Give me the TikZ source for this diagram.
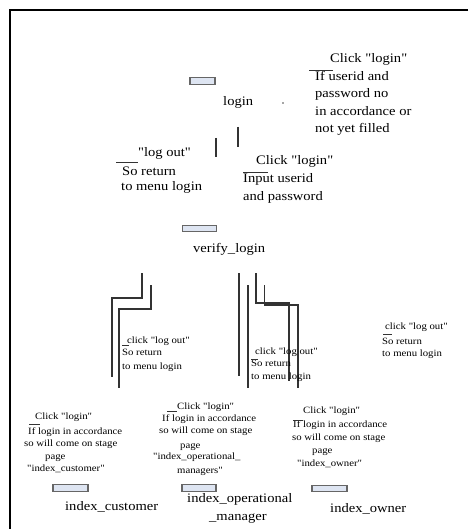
\documentclass[tikz,border=0pt]{standalone}
\usepackage{fontspec}
\setmainfont{Liberation Serif}[FakeStretch=1.12, Ligatures=TeXOff]
\newcommand\bigtxt{\fontsize{13}{16}\selectfont}
\newcommand\smalltxt{\fontsize{9.6}{12}\selectfont}
\definecolor{boxfill}{RGB}{222,229,242}
\tikzset{
  big/.style={anchor=mid west, inner sep=0pt, font=\bigtxt},
  small/.style={anchor=mid west, inner sep=0pt, font=\smalltxt},
  pagebox/.style={draw=black!60, fill=boxfill, line width=1.2pt,
    inner sep=0pt, minimum height=6.5pt},
  wire/.style={draw=black!80, line width=1.3pt},
  tick/.style={draw=black!80, line width=0.9pt},
  frameline/.style={draw=black, line width=2pt},
}
\begin{document}
\begin{tikzpicture}[x=1pt, y=-1pt]
\useasboundingbox (0,0) rectangle (468,529);
\fill[white] (0,0) rectangle (468,529);

% outer frame (top and left edges)
\coordinate (fTL) at (10,10.5);
\coordinate (fTR) at (468,10.5);
\coordinate (fBL) at (10,529);
\draw[frameline] (fTR) -- (fTL) -- (fBL);

% ---------- login page ----------
\node[pagebox, minimum width=25pt] (loginbox) at (202.5,81) {};
\node[big] (login) at (223,103) {login};
\fill[black!70] (283,103) circle (0.9);

% failed login note
\node[big] (fail1) at (330,60) {Click "login"};
\node[big] (fail2) at (315,78) {If userid and};
\node[big] (fail3) at (315,95.5) {password no};
\node[big] (fail4) at (315,113) {in accordance or};
\node[big] (fail5) at (315,130) {not yet filled};
\coordinate (failA) at (309,70); \coordinate (failB) at (333,70);
\draw[tick] (failA) -- (failB);

% short strokes between login and verify_login
\coordinate (s1a) at (238,127); \coordinate (s1b) at (238,147);
\coordinate (s2a) at (216,138); \coordinate (s2b) at (216,157);
\draw[wire] (s1a) -- (s1b);
\draw[wire] (s2a) -- (s2b);

% log out note
\node[big] (lo1) at (138,154) {"log out"};
\node[big] (lo2) at (122,173) {So return};
\node[big] (lo3) at (121,188.5) {to menu login};
\coordinate (loA) at (116,162); \coordinate (loB) at (138,162);
\draw[tick] (loA) -- (loB);

% input note
\node[big] (in1) at (256,162) {Click "login"};
\node[big] (in2) at (243,180) {Input userid};
\node[big] (in3) at (243,198) {and password};
\coordinate (inA) at (243,172); \coordinate (inB) at (268,172);
\draw[tick] (inA) -- (inB);

% ---------- verify_login ----------
\node[pagebox, minimum width=34pt] (verifybox) at (199.5,228.5) {};
\node[big] (verify) at (193,250) {verify\_login};

% wires from verify_login down to the index pages
\coordinate (a1) at (142,273); \coordinate (a2) at (142,298);
\coordinate (a3) at (112,298); \coordinate (a4) at (112,377);
\draw[wire] (a1) -- (a2) -- (a3) -- (a4);
\coordinate (b1) at (151,285); \coordinate (b2) at (151,309);
\coordinate (b3) at (119,309); \coordinate (b4) at (119,388);
\draw[wire] (b1) -- (b2) -- (b3) -- (b4);
\coordinate (c1) at (239,273); \coordinate (c2) at (239,376);
\draw[wire] (c1) -- (c2);
\coordinate (d1) at (248,285); \coordinate (d2) at (248,388);
\draw[wire] (d1) -- (d2);
\coordinate (e1) at (256,273); \coordinate (e2) at (256,303);
\coordinate (e3) at (289,303); \coordinate (e4) at (289,381);
\draw[wire] (e1) -- (e2) -- (e3) -- (e4);
\coordinate (g1) at (264.5,285); \coordinate (g2) at (264.5,305);
\coordinate (g3) at (298,305); \coordinate (g4) at (298,388);
\draw[wire] (g1) -- (g2) -- (g3) -- (g4);

% log out notes of the index pages
\node[small] (ca1) at (127,341) {click "log out"};
\node[small] (ca2) at (122,353.5) {So return};
\node[small] (ca3) at (122,367) {to menu login};
\coordinate (caA) at (122,345); \coordinate (caB) at (129,345);
\draw[tick] (caA) -- (caB);

\node[small] (cb1) at (255,352) {click "log out"};
\node[small] (cb2) at (251,364.5) {So return};
\node[small] (cb3) at (251,377) {to menu login};
\coordinate (cbA) at (251,359.5); \coordinate (cbB) at (258,359.5);
\draw[tick] (cbA) -- (cbB);

\node[small] (cc1) at (385,327) {click "log out"};
\node[small] (cc2) at (382,342) {So return};
\node[small] (cc3) at (382,354) {to menu login};
\coordinate (ccA) at (383,334.5); \coordinate (ccB) at (392,334.5);
\draw[tick] (ccA) -- (ccB);

% ---------- index_customer ----------
\node[small] (ka1) at (35,417) {Click "login"};
\node[small] (ka2) at (28,432) {If login in accordance};
\node[small] (ka3) at (24,444.5) {so will come on stage};
\node[small] (ka4) at (45,457) {page};
\node[small] (ka5) at (27,469) {"index\_customer"};
\coordinate (kaA) at (29,424.5); \coordinate (kaB) at (40,424.5);
\draw[tick] (kaA) -- (kaB);
\node[pagebox, minimum width=35pt] (custbox) at (70.5,488) {};
\node[big] (cust) at (65,508) {index\_customer};

% ---------- index_operational_manager ----------
\node[small] (kb1) at (177,407) {Click "login"};
\node[small] (kb2) at (162,419) {If login in accordance};
\node[small] (kb3) at (159,431) {so will come on stage};
\node[small] (kb4) at (180,446) {page};
\node[small] (kb5) at (153,457.5) {"index\_operational\_};
\node[small] (kb6) at (177,471) {managers"};
\coordinate (kbA) at (167,411.5); \coordinate (kbB) at (177,411.5);
\draw[tick] (kbA) -- (kbB);
\node[pagebox, minimum width=34pt] (opbox) at (199,488) {};
\node[big] (op1) at (187,500) {index\_operational};
\node[big] (op2) at (209,518) {\_manager};

% ---------- index_owner ----------
\node[small] (kc1) at (303,411) {Click "login"};
\node[small] (kc2) at (293,425) {If login in accordance};
\node[small] (kc3) at (292,438) {so will come on stage};
\node[small] (kc4) at (312,451) {page};
\node[small] (kc5) at (297,464) {"index\_owner"};
\coordinate (kcA) at (293,420.5); \coordinate (kcB) at (303,420.5);
\draw[tick] (kcA) -- (kcB);
\node[pagebox, minimum width=35pt] (ownbox) at (329.5,488.5) {};
\node[big] (own) at (330,510) {index\_owner};
\end{tikzpicture}
\end{document}
